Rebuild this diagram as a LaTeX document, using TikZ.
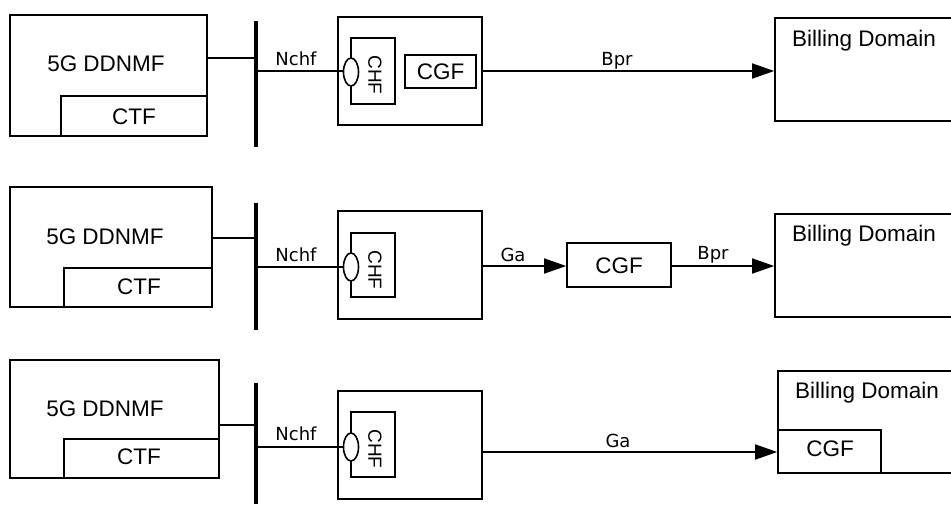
\documentclass[tikz,border=0pt]{standalone}
\usepackage{fontspec}
\setmainfont{Liberation Sans}
\newfontfamily\lblfont{DejaVu Sans}
\usetikzlibrary{arrows.meta,shapes.geometric}
\tikzset{
  box/.style={draw, line width=1.6pt, rectangle, inner sep=0pt},
  big/.style={font=\fontsize{22.5}{26}\selectfont, inner sep=0pt},
  lbl/.style={font=\lblfont\fontsize{18}{21}\selectfont, inner sep=0pt, anchor=base},
  chftxt/.style={font=\fontsize{19}{22}\selectfont, inner sep=0pt, rotate=-90},
  busline/.style={line width=3.4pt},
  thick2/.style={line width=2.8pt},
  arr/.style={line width=1.6pt, -{Triangle[length=22pt,width=15pt]}},
  elli/.style={draw, ellipse, line width=1.6pt, fill=white, minimum width=15pt, minimum height=28pt, inner sep=0pt},
}
\begin{document}
\begin{tikzpicture}[x=1pt,y=-1pt]
\useasboundingbox (0,0) rectangle (951,504);
\clip (0,0) rectangle (951,504);

% ---------------- Row 1 ----------------
\node[box, minimum width=197pt, minimum height=121pt] (dd1) at (108.5,75.5) {};
\node[box, minimum width=146pt, minimum height=40pt] (ctf1) at (134,116) {};
\node[big] (dd1t) at (106,64) {5G DDNMF};
\node[big] (ctf1t) at (134,117) {CTF};
\coordinate (b1t) at (256,21);
\coordinate (b1b) at (256,147);
\draw[busline] (b1t) -- (b1b);
\coordinate (c1) at (256,58);
\draw[thick2] (dd1.east |- c1) -- (c1);
\node[box, minimum width=144pt, minimum height=108pt] (out1) at (410,71) {};
\node[box, minimum width=44pt, minimum height=66pt] (chf1) at (373,71) {};
\node[chftxt] (chf1t) at (375,75) {CHF};
\node[elli] (e1) at (351,72) {};
\coordinate (n1) at (256,71);
\draw[thick2] (n1) -- (e1.west |- n1);
\node[lbl] (nchf1) at (296,65) {Nchf};
\node[box, minimum width=71pt, minimum height=33pt] (cgf1) at (440.5,71.5) {};
\node[big] (cgf1t) at (440.5,71.5) {CGF};
\node[box, minimum width=180pt, minimum height=103pt] (bd1) at (865,69.5) {};
\node[big, anchor=base west] (bd1t) at (792,46) {Billing Domain};
\draw[arr] (out1.east |- n1) -- (bd1.west |- n1);
\node[lbl] (bpr1) at (617,65) {Bpr};

% ---------------- Row 2 ----------------
\node[box, minimum width=202pt, minimum height=120pt] (dd2) at (111,247) {};
\node[box, minimum width=148pt, minimum height=39pt] (ctf2) at (138,287.5) {};
\node[big] (dd2t) at (105,237) {5G DDNMF};
\node[big] (ctf2t) at (139,287) {CTF};
\coordinate (b2t) at (256,203);
\coordinate (b2b) at (256,330);
\draw[busline] (b2t) -- (b2b);
\coordinate (c2) at (256,238);
\draw[thick2] (dd2.east |- c2) -- (c2);
\node[box, minimum width=144pt, minimum height=108pt] (out2) at (410,265) {};
\node[box, minimum width=44pt, minimum height=64pt] (chf2) at (373,265) {};
\node[chftxt] (chf2t) at (375,270) {CHF};
\node[elli] (e2) at (351,267) {};
\coordinate (n2) at (256,267);
\draw[thick2] (n2) -- (e2.west |- n2);
\node[lbl] (nchf2) at (296,261) {Nchf};
\node[box, minimum width=104pt, minimum height=44pt] (cgf2) at (619,265) {};
\node[big] (cgf2t) at (619,266) {CGF};
\node[box, minimum width=180pt, minimum height=103pt] (bd2) at (865,265.5) {};
\node[big, anchor=base west] (bd2t) at (792,241) {Billing Domain};
\coordinate (a2) at (482,266);
\draw[arr] (a2) -- (cgf2.west |- a2);
\draw[arr] (cgf2.east |- a2) -- (bd2.west |- a2);
\node[lbl] (ga2) at (513,261) {Ga};
\node[lbl] (bpr2) at (713,259) {Bpr};

% ---------------- Row 3 ----------------
\node[box, minimum width=209pt, minimum height=118pt] (dd3) at (114.5,419) {};
\node[box, minimum width=155pt, minimum height=39pt] (ctf3) at (141.5,458.5) {};
\node[big] (dd3t) at (105,409) {5G DDNMF};
\node[big] (ctf3t) at (139,457) {CTF};
\coordinate (b3t) at (256,383);
\coordinate (b3b) at (256,504);
\draw[busline] (b3t) -- (b3b);
\coordinate (c3) at (256,425);
\draw[thick2] (dd3.east |- c3) -- (c3);
\node[box, minimum width=144pt, minimum height=108pt] (out3) at (410,445) {};
\node[box, minimum width=44pt, minimum height=65pt] (chf3) at (373,444.5) {};
\node[chftxt] (chf3t) at (375,449) {CHF};
\node[elli] (e3) at (351,447) {};
\coordinate (n3) at (256,447);
\draw[thick2] (n3) -- (e3.west |- n3);
\node[lbl] (nchf3) at (296,440) {Nchf};
\node[box, minimum width=180pt, minimum height=102pt] (bd3) at (868,422) {};
\node[big, anchor=base west] (bd3t) at (795,398) {Billing Domain};
\node[box, minimum width=103pt, minimum height=43pt] (cgf3) at (829.5,451.5) {};
\node[big] (cgf3t) at (830,449) {CGF};
\coordinate (a3) at (482,452);
\draw[arr] (a3) -- (bd3.west |- a3);
\node[lbl] (ga3) at (618,447) {Ga};
\end{tikzpicture}
\end{document}
